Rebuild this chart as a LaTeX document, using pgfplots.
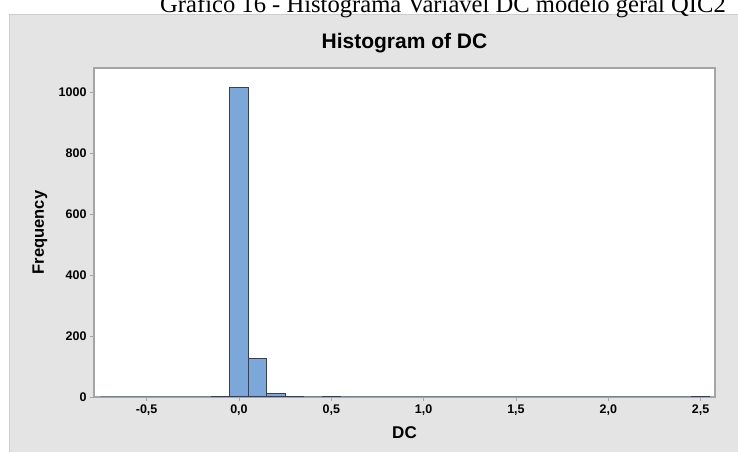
\documentclass[border=0pt]{standalone}
\usepackage{pgfplots}
\pgfplotsset{compat=1.18}
\usepackage{fontspec}
\setmainfont{Liberation Sans}
\newfontfamily\capfont{Liberation Serif}
\definecolor{panel}{RGB}{228,228,228}
\definecolor{panelborder}{RGB}{205,205,205}
\definecolor{frame}{RGB}{165,165,165}
\definecolor{barfill}{RGB}{124,167,217}
\definecolor{baredge}{RGB}{55,65,85}
\begin{document}
\begin{tikzpicture}
\useasboundingbox (0pt,0pt) rectangle (738pt,452pt);
\fill[panel] (9pt,0pt) rectangle (738pt,438pt);
\draw[panelborder,line width=1pt] (9.5pt,0pt) -- (9.5pt,437.5pt) -- (738pt,437.5pt);
\node[anchor=base west,inner sep=0pt,font=\capfont\fontsize{24.6}{28}\selectfont] at (160pt,439pt) {Gráfico 16 - Histograma Variável DC modelo geral QIC2};
\coordinate (O) at (94pt,55pt);
\begin{axis}[
  at={(O)}, anchor=south west,
  scale only axis, width=621pt, height=329pt,
  xmin=-0.785, xmax=2.578, ymin=0, ymax=1080,
  axis background/.style={fill=white},
  axis line style={frame,line width=1.2pt},
  tick pos=left, tick align=outside,
  major tick length=4pt,
  tick style={frame,line width=0.8pt},
  xtick={-0.5,0,0.5,1,1.5,2,2.5},
  ytick={0,200,400,600,800,1000},
  /pgf/number format/assume math mode=true,
  x tick label style={/pgf/number format/.cd,use comma,fixed,fixed zerofill,precision=1,/tikz/.cd},
  y tick label style={/pgf/number format/.cd,fixed,1000 sep={},/tikz/.cd},
  tick label style={font=\bfseries\fontsize{12.5}{14}\selectfont},
  title={Histogram of DC},
  title style={font=\bfseries\fontsize{21}{24}\selectfont, at={(axis description cs:0.5,1)}, anchor=center, yshift=19pt},
  xlabel={DC},
  xlabel style={font=\bfseries\fontsize{17}{20}\selectfont, at={(axis description cs:0.5,-0.109)}, anchor=center},
  ylabel={Frequency},
  ylabel style={font=\bfseries\fontsize{16.5}{19}\selectfont, at={(axis description cs:-0.087,0.5)}, anchor=center},
  clip=false,
]
\addplot[ybar interval, fill=barfill, draw=baredge, line width=1pt] coordinates {
(-0.75,0) (-0.65,0) (-0.55,0) (-0.45,0) (-0.35,0) (-0.25,0) (-0.15,3)
(-0.05,1016) (0.05,125) (0.15,11) (0.25,2) (0.35,0) (0.45,3) (0.55,0)
(0.65,0) (0.75,0) (0.85,0) (0.95,0) (1.05,0) (1.15,0) (1.25,0) (1.35,0)
(1.45,0) (1.55,0) (1.65,0) (1.75,0) (1.85,0) (1.95,0) (2.05,0) (2.15,0)
(2.25,0) (2.35,0) (2.45,1) (2.55,1)
};
\end{axis}
\end{tikzpicture}
\end{document}
